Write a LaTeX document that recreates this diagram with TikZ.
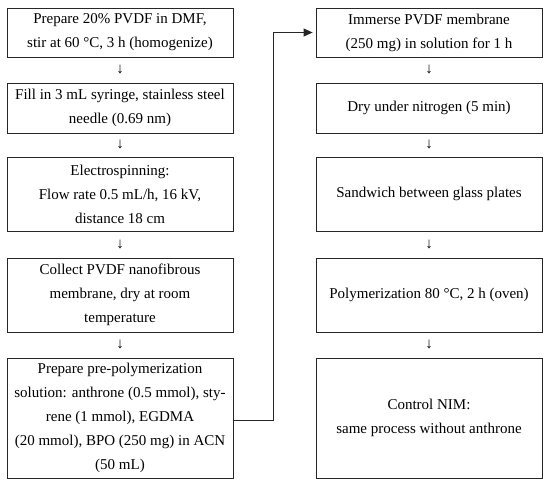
\documentclass[tikz,border=0pt]{standalone}
\usepackage{fontspec}
\setmainfont{Liberation Serif}
\usetikzlibrary{arrows.meta}
\begin{document}
\begin{tikzpicture}[x=1bp,y=-1bp,
  stepbox/.style={draw=black!85,line width=0.8bp,fill=white,inner sep=0pt,
    minimum width=226bp,align=center,font=\fontsize{15bp}{24bp}\selectfont},
  darrow/.style={inner sep=0pt,font=\fontsize{15bp}{24bp}\selectfont},
  link/.style={draw=black!85,line width=0.8bp,-{Triangle[length=9bp,width=8bp]},shorten >=3bp}]
\useasboundingbox[fill=white] (0,0) rectangle (550,488);
% left column
\node[stepbox,minimum height=49bp] (L1) at (120,32.5) {Prepare 20\% PVDF in DMF,\\stir at 60 °C, 3 h (homogenize)};
\node[stepbox,minimum height=50bp] (L2) at (120,108) {Fill in 3 mL syringe, stainless steel\\needle (0.69 nm)};
\node[stepbox,minimum height=74.5bp] (L3) at (120,194.25) {Electrospinning:\\Flow rate 0.5 mL/h, 16 kV,\\distance 18 cm};
\node[stepbox,minimum height=74bp] (L4) at (120,295) {Collect PVDF nanofibrous\\membrane, dry at room\\temperature};
\node[stepbox,minimum height=120.5bp] (L5) at (120,418.25) {Prepare pre-polymerization\\solution: anthrone (0.5 mmol), sty-\\rene (1 mmol), EGDMA\\(20 mmol), BPO (250 mg) in ACN\\(50 mL)};
% right column
\node[stepbox,minimum height=49bp] (R1) at (429,32.5) {Immerse PVDF membrane\\(250 mg) in solution for 1 h};
\node[stepbox,minimum height=50bp] (R2) at (429,108) {Dry under nitrogen (5 min)};
\node[stepbox,minimum height=74.5bp] (R3) at (429,194.25) {Sandwich between glass plates};
\node[stepbox,minimum height=74bp] (R4) at (429,295) {Polymerization 80 °C, 2 h (oven)};
\node[stepbox,minimum height=120.5bp] (R5) at (429,418.25) {Control NIM:\\same process without anthrone};
% down arrows (glyphs)
\node[darrow] (a1) at (120,70) {↓};
\node[darrow] (a2) at (120,145) {↓};
\node[darrow] (a3) at (120,244.75) {↓};
\node[darrow] (a4) at (120,345) {↓};
\node[darrow] (b1) at (429,70) {↓};
\node[darrow] (b2) at (429,145) {↓};
\node[darrow] (b3) at (429,244.75) {↓};
\node[darrow] (b4) at (429,345) {↓};
% connector
\draw[link] ([yshift=-2bp]L5.east) -- ++(40bp,0) |- (R1.west);
\end{tikzpicture}
\end{document}
